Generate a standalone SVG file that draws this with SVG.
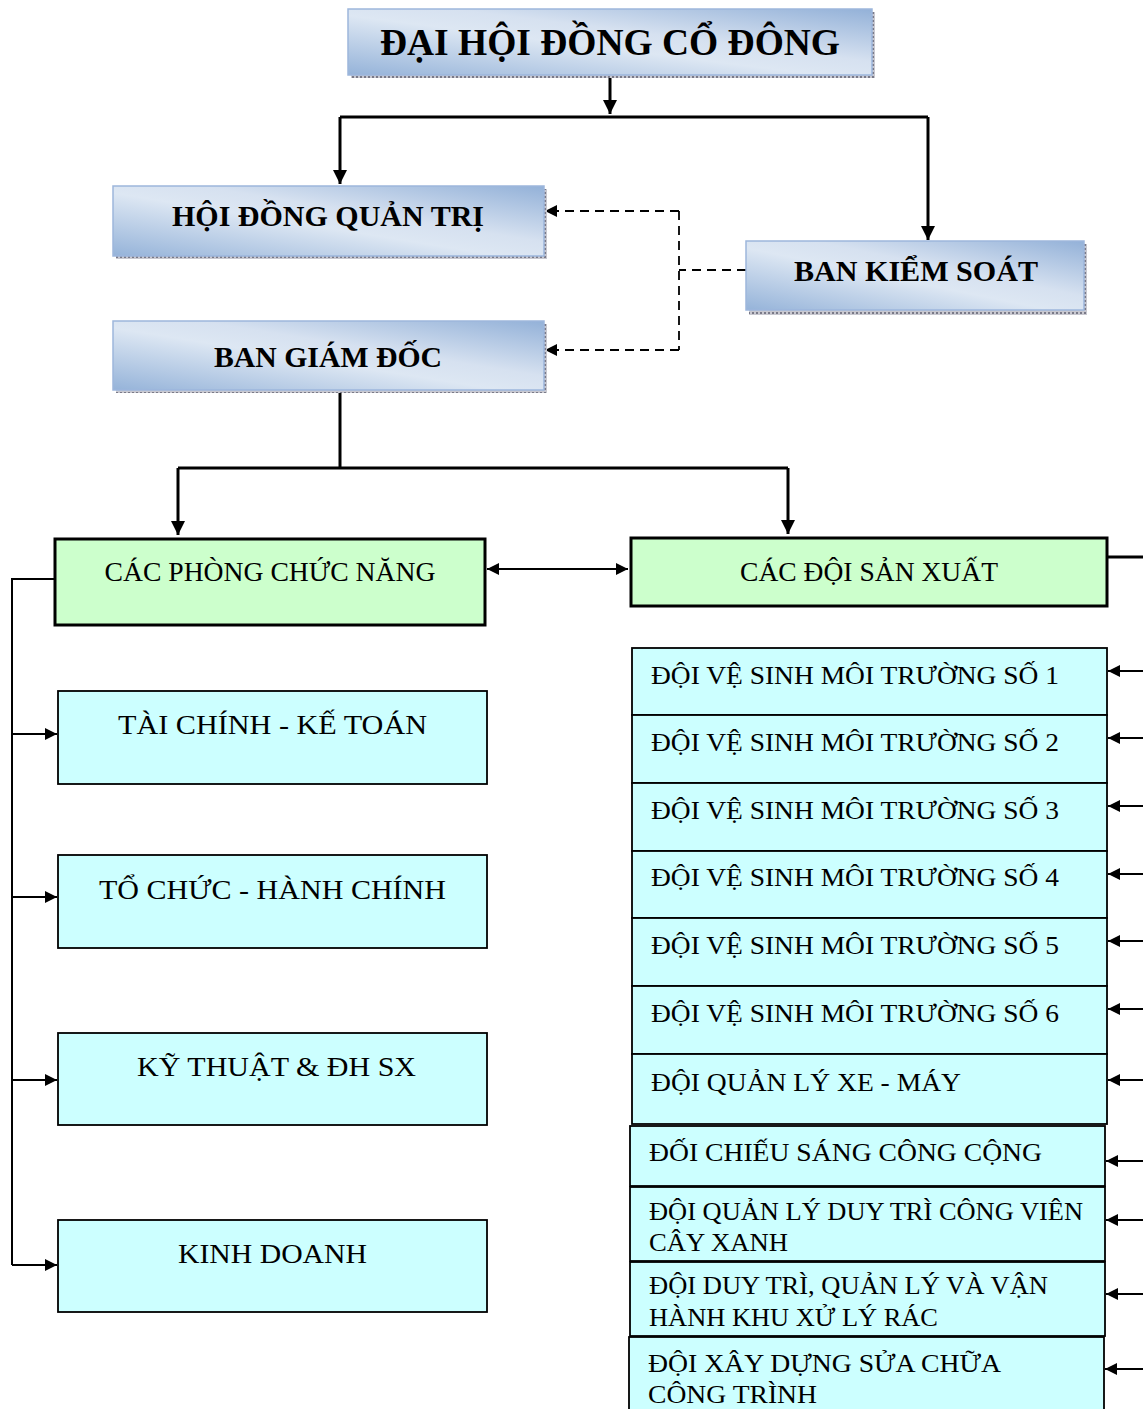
<svg xmlns="http://www.w3.org/2000/svg" width="1143" height="1409" viewBox="0 0 1143 1409">
<style>
.bt{font-family:"Liberation Serif","Times New Roman",serif;font-weight:bold;fill:#000;text-anchor:middle}
.t{font-family:"Liberation Serif","Times New Roman",serif;fill:#000}
.tc{text-anchor:middle}
.blue{fill:url(#gb);stroke:#9db6dc;stroke-width:1.5}
.shadow{fill:url(#dots)}
.green{fill:#ccffcc;stroke:#000;stroke-width:3}
.cyan{fill:#ccffff;stroke:#000;stroke-width:1.8}
.ln{fill:none;stroke:#000;stroke-width:3}
.ln2{fill:none;stroke:#000;stroke-width:2}
.dash{fill:none;stroke:#000;stroke-width:1.8;stroke-dasharray:9,6}
</style>
<defs>
<linearGradient id="gb" x1="0" y1="1" x2="1" y2="0">
<stop offset="0" stop-color="#95b3d9"/>
<stop offset="0.45" stop-color="#dde7f3"/>
<stop offset="0.6" stop-color="#d6e1f0"/>
<stop offset="1" stop-color="#93b1d8"/>
</linearGradient>
<pattern id="dots" width="4" height="4" patternUnits="userSpaceOnUse">
<rect width="4" height="4" fill="#c8c8d0"/>
<rect width="2" height="2" fill="#7a7a88"/>
</pattern>
<marker id="ah" viewBox="0 0 10 10" refX="10" refY="5" markerWidth="12" markerHeight="12" markerUnits="userSpaceOnUse" orient="auto">
<path d="M0,0 L10,5 L0,10 z" fill="#000"/>
</marker>
<marker id="ahb" viewBox="0 0 10 10" refX="10" refY="5" markerWidth="14" markerHeight="14" markerUnits="userSpaceOnUse" orient="auto">
<path d="M0,0 L10,5 L0,10 z" fill="#000"/>
</marker>
<marker id="ahs" viewBox="0 0 10 10" refX="0" refY="5" markerWidth="12" markerHeight="12" markerUnits="userSpaceOnUse" orient="auto">
<path d="M10,0 L0,5 L10,10 z" fill="#000"/>
</marker>
</defs>
<rect width="1143" height="1409" fill="#fff"/>

<g id="connectors">
<path class="ln" d="M610,75 V114" marker-end="url(#ahb)"/>
<path class="ln" d="M340,117 H928"/>
<path class="ln" d="M340,117 V184" marker-end="url(#ahb)"/>
<path class="ln" d="M928,117 V240" marker-end="url(#ahb)"/>
<path class="dash" d="M746,270 H679"/>
<path class="dash" d="M679,211 V350"/>
<path class="dash" d="M679,211 H545" marker-end="url(#ah)"/>
<path class="dash" d="M679,350 H545" marker-end="url(#ah)"/>
<path class="ln" d="M340,390 V468"/>
<path class="ln" d="M178,468 H788"/>
<path class="ln" d="M178,468 V535" marker-end="url(#ahb)"/>
<path class="ln" d="M788,468 V534" marker-end="url(#ahb)"/>
<path class="ln2" d="M487,569 H628" marker-start="url(#ahs)" marker-end="url(#ah)"/>
<path class="ln" d="M1107,557 H1143"/>
<path class="ln2" d="M55,579 H12 V1265"/>
<path class="ln2" d="M12,734 H57" marker-end="url(#ah)"/>
<path class="ln2" d="M12,897 H57" marker-end="url(#ah)"/>
<path class="ln2" d="M12,1080 H57" marker-end="url(#ah)"/>
<path class="ln2" d="M12,1265 H57" marker-end="url(#ah)"/>
<path class="ln2" d="M1143,671 H1108" marker-end="url(#ah)"/>
<path class="ln2" d="M1143,738 H1108" marker-end="url(#ah)"/>
<path class="ln2" d="M1143,806 H1108" marker-end="url(#ah)"/>
<path class="ln2" d="M1143,874 H1108" marker-end="url(#ah)"/>
<path class="ln2" d="M1143,941 H1108" marker-end="url(#ah)"/>
<path class="ln2" d="M1143,1009 H1108" marker-end="url(#ah)"/>
<path class="ln2" d="M1143,1080 H1108" marker-end="url(#ah)"/>
<path class="ln2" d="M1143,1161 H1106" marker-end="url(#ah)"/>
<path class="ln2" d="M1143,1220 H1106" marker-end="url(#ah)"/>
<path class="ln2" d="M1143,1294 H1106" marker-end="url(#ah)"/>
<path class="ln2" d="M1143,1369 H1105" marker-end="url(#ah)"/>
</g>

<g id="dhdcd">
<rect class="shadow" x="351" y="12" width="524" height="66"/>
<rect class="blue" x="348" y="9" width="524" height="66"/>
<text class="bt" x="610" y="55" font-size="37" textLength="460" lengthAdjust="spacingAndGlyphs">ĐẠI HỘI ĐỒNG CỔ ĐÔNG</text>
</g>
<g id="hdqt">
<rect class="shadow" x="116" y="189" width="431" height="70"/>
<rect class="blue" x="113" y="186" width="431" height="70"/>
<text class="bt" x="328" y="226" font-size="30" textLength="312" lengthAdjust="spacingAndGlyphs">HỘI ĐỒNG QUẢN TRỊ</text>
</g>
<g id="bgd">
<rect class="shadow" x="116" y="324" width="431" height="69"/>
<rect class="blue" x="113" y="321" width="431" height="69"/>
<text class="bt" x="328" y="367" font-size="30" textLength="228" lengthAdjust="spacingAndGlyphs">BAN GIÁM ĐỐC</text>
</g>
<g id="bks">
<rect class="shadow" x="749" y="244" width="338" height="71"/>
<rect class="blue" x="746" y="241" width="338" height="69"/>
<text class="bt" x="916" y="281" font-size="30" textLength="244" lengthAdjust="spacingAndGlyphs">BAN KIỂM SOÁT</text>
</g>

<g id="cpcn">
<rect class="green" x="55" y="539" width="430" height="86"/>
<text class="t tc" x="270" y="581" font-size="27" textLength="331" lengthAdjust="spacingAndGlyphs">CÁC PHÒNG CHỨC NĂNG</text>
</g>
<g id="cdsx">
<rect class="green" x="631" y="538" width="476" height="68"/>
<text class="t tc" x="869" y="581" font-size="27" textLength="258" lengthAdjust="spacingAndGlyphs">CÁC ĐỘI SẢN XUẤT</text>
</g>

<g id="tckt">
<rect class="cyan" x="58" y="691" width="429" height="93"/>
<text class="t tc" x="272.5" y="734" font-size="28" textLength="309" lengthAdjust="spacingAndGlyphs">TÀI CHÍNH - KẾ TOÁN</text>
</g>
<g id="tchc">
<rect class="cyan" x="58" y="855" width="429" height="93"/>
<text class="t tc" x="272.5" y="899" font-size="28" textLength="347" lengthAdjust="spacingAndGlyphs">TỔ CHỨC - HÀNH CHÍNH</text>
</g>
<g id="ktdh">
<rect class="cyan" x="58" y="1033" width="429" height="92"/>
<text class="t tc" x="276.5" y="1076" font-size="28" textLength="279" lengthAdjust="spacingAndGlyphs">KỸ THUẬT &amp; ĐH SX</text>
</g>
<g id="kd">
<rect class="cyan" x="58" y="1220" width="429" height="92"/>
<text class="t tc" x="272.5" y="1263" font-size="28" textLength="189" lengthAdjust="spacingAndGlyphs">KINH DOANH</text>
</g>

<g id="vs1">
<rect class="cyan" x="632" y="648" width="475" height="67"/>
<text class="t" x="651" y="684" font-size="26" textLength="408" lengthAdjust="spacingAndGlyphs">ĐỘI VỆ SINH MÔI TRƯỜNG SỐ 1</text>
</g>
<g id="vs2">
<rect class="cyan" x="632" y="715" width="475" height="68"/>
<text class="t" x="651" y="751" font-size="26" textLength="408" lengthAdjust="spacingAndGlyphs">ĐỘI VỆ SINH MÔI TRƯỜNG SỐ 2</text>
</g>
<g id="vs3">
<rect class="cyan" x="632" y="783" width="475" height="68"/>
<text class="t" x="651" y="819" font-size="26" textLength="408" lengthAdjust="spacingAndGlyphs">ĐỘI VỆ SINH MÔI TRƯỜNG SỐ 3</text>
</g>
<g id="vs4">
<rect class="cyan" x="632" y="851" width="475" height="67"/>
<text class="t" x="651" y="886" font-size="26" textLength="408" lengthAdjust="spacingAndGlyphs">ĐỘI VỆ SINH MÔI TRƯỜNG SỐ 4</text>
</g>
<g id="vs5">
<rect class="cyan" x="632" y="918" width="475" height="68"/>
<text class="t" x="651" y="954" font-size="26" textLength="408" lengthAdjust="spacingAndGlyphs">ĐỘI VỆ SINH MÔI TRƯỜNG SỐ 5</text>
</g>
<g id="vs6">
<rect class="cyan" x="632" y="986" width="475" height="68"/>
<text class="t" x="651" y="1022" font-size="26" textLength="408" lengthAdjust="spacingAndGlyphs">ĐỘI VỆ SINH MÔI TRƯỜNG SỐ 6</text>
</g>
<g id="xemay">
<rect class="cyan" x="632" y="1054" width="475" height="70"/>
<text class="t" x="651" y="1091" font-size="26" textLength="310" lengthAdjust="spacingAndGlyphs">ĐỘI QUẢN LÝ XE - MÁY</text>
</g>
<g id="chieusang">
<rect class="cyan" x="630" y="1126" width="475" height="60"/>
<text class="t" x="649" y="1161" font-size="26" textLength="393" lengthAdjust="spacingAndGlyphs">ĐỐI CHIẾU SÁNG CÔNG CỘNG</text>
</g>
<g id="congvien">
<rect class="cyan" x="630" y="1187" width="475" height="74"/>
<text class="t" x="649" y="1220" font-size="26" textLength="434" lengthAdjust="spacingAndGlyphs">ĐỘI QUẢN LÝ DUY TRÌ CÔNG VIÊN</text>
<text class="t" x="649" y="1251" font-size="26" textLength="139" lengthAdjust="spacingAndGlyphs">CÂY XANH</text>
</g>
<g id="rac">
<rect class="cyan" x="630" y="1262" width="475" height="74"/>
<text class="t" x="649" y="1294" font-size="26" textLength="399" lengthAdjust="spacingAndGlyphs">ĐỘI DUY TRÌ, QUẢN LÝ VÀ VẬN</text>
<text class="t" x="649" y="1326" font-size="26" textLength="289" lengthAdjust="spacingAndGlyphs">HÀNH KHU XỬ LÝ RÁC</text>
</g>
<g id="xaydung">
<rect class="cyan" x="629" y="1337" width="475" height="80"/>
<text class="t" x="648" y="1372" font-size="26" textLength="353" lengthAdjust="spacingAndGlyphs">ĐỘI XÂY DỰNG SỬA CHỮA</text>
<text class="t" x="648" y="1403" font-size="26" textLength="169" lengthAdjust="spacingAndGlyphs">CÔNG TRÌNH</text>
</g>
</svg>
